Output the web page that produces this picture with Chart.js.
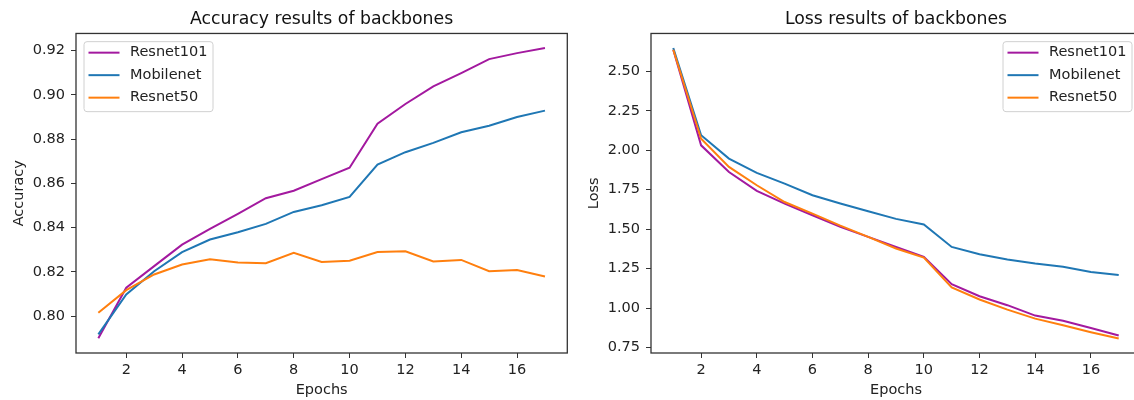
<!DOCTYPE html>
<html>
<head>
<meta charset="utf-8">
<script src="https://cdn.jsdelivr.net/npm/chart.js@4"></script>
<style>
  html, body { margin: 0; padding: 0; background: #fff; overflow: hidden; width: 1134px; height: 400px; }
  canvas { position: absolute; top: 0; }
  #accChart { left: 0; }
  #lossChart { left: 580px; }
</style>
</head>
<body>
<canvas id="accChart" width="580" height="400"></canvas>
<canvas id="lossChart" width="570" height="400"></canvas>
<script>
const epochs = [1, 2, 3, 4, 5, 6, 7, 8, 9, 10, 11, 12, 13, 14, 15, 16, 17];
const seriesNames = ["Resnet101", "Mobilenet", "Resnet50"];
const seriesColors = ["#a3199f", "#1f77b4", "#ff7f0e"];

const accResnet101 = [0.790, 0.8128, 0.8226, 0.8323, 0.8394, 0.8462, 0.8533, 0.8567, 0.8619, 0.8671, 0.887, 0.8959, 0.9039, 0.9099, 0.9162, 0.9189, 0.9212];
const accMobilenet = [0.7917, 0.8098, 0.8203, 0.8289, 0.8346, 0.8379, 0.8417, 0.8471, 0.8501, 0.8539, 0.8685, 0.8741, 0.8783, 0.8831, 0.8861, 0.890, 0.8929];
const accResnet50 = [0.8015, 0.8117, 0.8188, 0.8233, 0.8257, 0.8242, 0.8239, 0.8286, 0.8245, 0.825, 0.829, 0.8293, 0.8247, 0.8254, 0.8203, 0.8208, 0.8179];

const lossResnet101 = [2.637, 2.031, 1.862, 1.742, 1.662, 1.588, 1.514, 1.451, 1.387, 1.324, 1.151, 1.075, 1.018, 0.952, 0.919, 0.874, 0.826];
const lossMobilenet = [2.648, 2.095, 1.947, 1.856, 1.788, 1.715, 1.662, 1.613, 1.565, 1.529, 1.387, 1.341, 1.307, 1.282, 1.261, 1.229, 1.21];
const lossResnet50 = [2.637, 2.073, 1.894, 1.778, 1.672, 1.598, 1.522, 1.451, 1.377, 1.32, 1.13, 1.054, 0.99, 0.933, 0.891, 0.847, 0.807];

const xTicks = [2, 4, 6, 8, 10, 12, 14, 16];
const accTicks = [0.80, 0.82, 0.84, 0.86, 0.88, 0.90, 0.92];
const lossTicks = [0.75, 1.00, 1.25, 1.50, 1.75, 2.00, 2.25, 2.50];

const FONT = "'DejaVu Sans', sans-serif";

// frame round the plot + matplotlib-like legend inside it
const frameLegend = {
  id: 'frameLegend',
  afterDraw(chart, args, opts) {
    const ctx = chart.ctx;
    const a = chart.chartArea;
    ctx.save();
    ctx.strokeStyle = "#333";
    ctx.lineWidth = 1.3;
    ctx.strokeRect(a.left, a.top, a.right - a.left, a.bottom - a.top);

    const w = 129, h = 70;
    const x = opts.side === "left" ? a.left + 8 : a.right - 9 - w;
    const y = a.top + 8.2;
    ctx.beginPath();
    ctx.roundRect(x, y, w, h, 3);
    ctx.fillStyle = "rgba(255,255,255,0.8)";
    ctx.fill();
    ctx.strokeStyle = "#d0d0d0";
    ctx.lineWidth = 1;
    ctx.stroke();

    ctx.font = "14.5px " + FONT;
    ctx.textBaseline = "middle";
    chart.data.datasets.forEach((ds, i) => {
      const ry = y + 11 + i * 22.5;
      ctx.strokeStyle = ds.borderColor;
      ctx.lineWidth = 2;
      ctx.beginPath();
      ctx.moveTo(x + 4.5, ry);
      ctx.lineTo(x + 35.5, ry);
      ctx.stroke();
      ctx.fillStyle = "#222";
      ctx.fillText(ds.label, x + 46, ry);
    });
    ctx.restore();
  }
};

function makeChart(id, opt) {
  const datasets = opt.series.map((vals, i) => ({
    label: seriesNames[i],
    data: epochs.map((e, j) => ({ x: e, y: vals[j] })),
    borderColor: seriesColors[i],
    borderWidth: 2,
    pointRadius: 0,
    tension: 0,
    fill: false,
    order: 3 - i
  }));

  return new Chart(document.getElementById(id), {
    type: "line",
    data: { datasets },
    plugins: [frameLegend],
    options: {
      responsive: false,
      animation: false,
      layout: { padding: { left: 0, right: opt.padRight, top: 0, bottom: 0 } },
      plugins: {
        legend: { display: false },
        tooltip: { enabled: false },
        title: {
          display: true,
          text: opt.title,
          fullSize: false,
          color: "#111",
          font: { family: FONT, size: 17.3, weight: "normal" },
          padding: { top: 9.6, bottom: 3.1 }
        },
        frameLegend: { side: opt.legendSide }
      },
      scales: {
        x: {
          type: "linear",
          min: 0.2,
          max: 17.8,
          afterBuildTicks: s => { s.ticks = xTicks.map(v => ({ value: v })); },
          afterFit: s => { s.height = 47; },
          border: { display: false },
          grid: { drawOnChartArea: false, drawTicks: true, tickLength: 5, color: "#333", tickColor: "#333" },
          ticks: { color: "#222", padding: 3.3, maxRotation: 0, font: { family: FONT, size: 14.5 }, callback: v => String(v) },
          title: { display: true, text: "Epochs", color: "#222", font: { family: FONT, size: 14.5 }, padding: { top: 0, bottom: 0.7 } }
        },
        y: {
          type: "linear",
          min: opt.yMin,
          max: opt.yMax,
          afterBuildTicks: s => { s.ticks = opt.yTicks.map(v => ({ value: v })); },
          afterFit: s => { s.width = opt.yWidth; },
          border: { display: false },
          grid: { drawOnChartArea: false, drawTicks: true, tickLength: 5, color: "#333", tickColor: "#333" },
          ticks: { color: "#222", padding: 6, font: { family: FONT, size: 14.5 }, callback: v => v.toFixed(2) },
          title: { display: true, text: opt.yTitle, color: "#222", font: { family: FONT, size: 14.5 }, padding: { top: opt.yTitlePad, bottom: 0 } }
        }
      }
    }
  });
}

makeChart("accChart", {
  title: "Accuracy results of backbones",
  yTitle: "Accuracy",
  series: [accResnet101, accMobilenet, accResnet50],
  yMin: 0.7833, yMax: 0.9278, yTicks: accTicks,
  yWidth: 76, yTitlePad: 10.6, padRight: 12.7, legendSide: "left"
});

makeChart("lossChart", {
  title: "Loss results of backbones",
  yTitle: "Loss",
  series: [lossResnet101, lossMobilenet, lossResnet50],
  yMin: 0.715, yMax: 2.740, yTicks: lossTicks,
  yWidth: 71, yTitlePad: 5.9, padRight: 9, legendSide: "right"
});
</script>
</body>
</html>
